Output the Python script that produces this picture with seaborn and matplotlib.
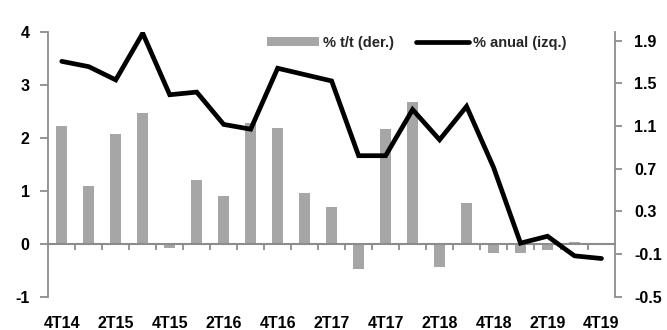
import matplotlib
matplotlib.use("Agg")
import matplotlib.pyplot as plt
import seaborn as sns
import pandas as pd
from matplotlib.lines import Line2D
from matplotlib.patches import Patch

# Quarters 4T14 .. 4T19
quarters = ["4T14", "1T15", "2T15", "3T15", "4T15", "1T16", "2T16", "3T16", "4T16",
            "1T17", "2T17", "3T17", "4T17", "1T18", "2T18", "3T18", "4T18",
            "1T19", "2T19", "3T19", "4T19"]
# Year-on-year growth (left axis)
anual = [3.44, 3.34, 3.09, 3.97, 2.81, 2.86, 2.25, 2.16, 3.31, 3.19, 3.07,
         1.66, 1.66, 2.53, 1.96, 2.59, 1.44, 0.01, 0.14, -0.23, -0.28]
# Quarter-on-quarter growth (right axis)
tt = [1.10, 0.54, 1.03, 1.22, -0.04, 0.59, 0.44, 1.13, 1.08, 0.47, 0.34,
      -0.24, 1.07, 1.33, -0.22, 0.38, -0.09, -0.09, -0.06, 0.01, -0.02]
left_ticks = [-1, 0, 1, 2, 3, 4]
right_ticks = [-0.5, -0.1, 0.3, 0.7, 1.1, 1.5, 1.9]

df = pd.DataFrame({"trimestre": quarters, "anual": anual, "tt": tt,
                   "pos": range(len(quarters))})

sns.set_theme(style="white")
plt.rcParams["font.family"] = ["Liberation Sans", "DejaVu Sans"]
plt.rcParams["font.weight"] = "bold"

AX_GREY = "#8c8c8c"
BAR_GREY = "#a6a6a6"

fig = plt.figure(figsize=(6.67, 3.30), dpi=100)
ax = fig.add_axes([0.0724, 0.101, 0.8496, 0.803])
ax2 = ax.twinx()

# bars on the secondary (right) axis
sns.barplot(data=df, x="pos", y="tt", ax=ax2, color=BAR_GREY, width=0.4,
            saturation=1, native_scale=True, edgecolor="none")
# annual line on the primary (left) axis
sns.lineplot(data=df, x="pos", y="anual", ax=ax, color="black", linewidth=3.4,
             solid_joinstyle="miter")

ax.set_zorder(ax2.get_zorder() + 1)
ax.patch.set_visible(False)

ax.set_xlim(-0.5, len(quarters) - 0.5)
ax.set_ylim(-1, 4)
ax2.set_ylim(-0.5, 1.985)
ax.set_yticks(left_ticks)
ax.set_yticklabels([str(v) for v in left_ticks])
ax2.set_yticks(right_ticks)
ax2.set_yticklabels([f"{v:.1f}" for v in right_ticks])

for a in (ax, ax2):
    for s in a.spines.values():
        s.set_visible(False)
    a.set_xlabel("")
    a.set_ylabel("")
    a.grid(False)

ax.spines["left"].set_visible(True)
ax.spines["left"].set_color(AX_GREY)
ax.spines["left"].set_linewidth(1.3)
ax2.spines["right"].set_visible(True)
ax2.spines["right"].set_color(AX_GREY)
ax2.spines["right"].set_linewidth(1.3)

ax.tick_params(axis="y", left=True, direction="out", length=5.5, width=1.3,
               color=AX_GREY, pad=8, labelsize=11.5, labelcolor="black")
ax2.tick_params(axis="y", right=True, direction="out", length=5, width=1.3,
                color=AX_GREY, pad=9, labelsize=11.5, labelcolor="black")

# category labels every second quarter at the bottom
ax.set_xticks(list(range(0, len(quarters), 2)))
ax.set_xticklabels(quarters[::2])
ax.tick_params(axis="x", bottom=True, length=0, pad=14, labelsize=11.5,
               labelcolor="black")
ax2.tick_params(axis="x", bottom=False, labelbottom=False)

# category axis crossing at zero with ticks between quarters
zero_frac = (0 - (-1)) / (4 - (-1))
sec = ax.secondary_xaxis(zero_frac)
sec.set_xticks([i + 0.5 for i in range(len(quarters) - 1)])
sec.set_xticklabels([])
sec.spines["bottom"].set_color(AX_GREY)
sec.spines["bottom"].set_linewidth(1.5)
sec.tick_params(axis="x", direction="out", length=4.5, width=1.3, color=AX_GREY)

for lab in ax.get_xticklabels() + ax.get_yticklabels() + ax2.get_yticklabels():
    lab.set_fontweight("bold")

handles = [Patch(facecolor=BAR_GREY, edgecolor="none"),
           Line2D([0], [0], color="black", linewidth=3.4)]
leg = ax.legend(handles, ["% t/t (der.)", "% anual (izq.)"], loc="upper left",
                bbox_to_anchor=(0.362, 1.035), ncol=2, frameon=False,
                handlelength=3.6, handleheight=0.55, handletextpad=0.3,
                columnspacing=1.5, prop={"weight": "bold", "size": 10.5})

fig.savefig("out.png", dpi=100)
